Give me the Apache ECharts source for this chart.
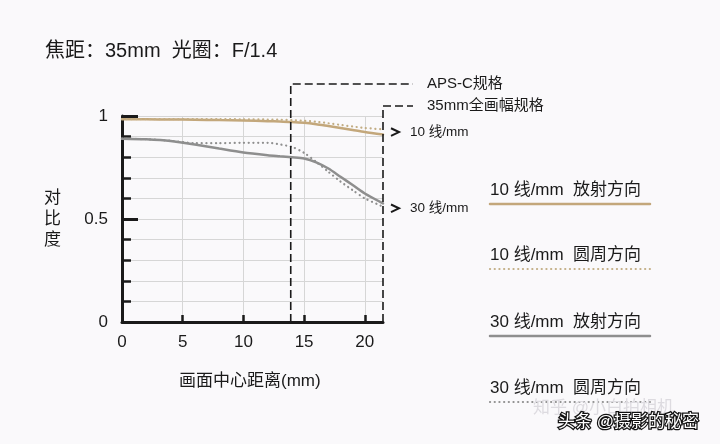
<!DOCTYPE html>
<html><head><meta charset="utf-8">
<script src="https://cdn.jsdelivr.net/npm/echarts@6/dist/echarts.min.js"></script>
<style>html,body{margin:0;padding:0;background:#faf9fb}#c{width:720px;height:444px}</style>
</head><body><div id="c"></div>
<script>
const FONT = '"Liberation Sans","Noto Sans CJK SC",sans-serif';
const titleText = '焦距：35mm  光圈：F/1.4';
const yName = '对比度';
const xName = '画面中心距离(mm)';
const distance = [0, 2, 4, 6, 8, 10, 12, 13, 14, 15, 16, 17, 18, 19, 20, 21.5];
const radial10 = [0.984, 0.984, 0.983, 0.982, 0.980, 0.978, 0.975, 0.973, 0.971, 0.967, 0.960, 0.951, 0.942, 0.932, 0.922, 0.910];
const tangential10 = [0.985, 0.985, 0.985, 0.985, 0.985, 0.984, 0.983, 0.982, 0.980, 0.977, 0.972, 0.965, 0.957, 0.949, 0.942, 0.935];
const radial30 = [0.890, 0.887, 0.879, 0.862, 0.842, 0.823, 0.810, 0.805, 0.800, 0.794, 0.775, 0.745, 0.705, 0.665, 0.624, 0.576];
const tangential30 = [0.890, 0.887, 0.880, 0.868, 0.868, 0.870, 0.870, 0.862, 0.850, 0.821, 0.777, 0.729, 0.682, 0.640, 0.600, 0.560];
const xTicks = [0, 5, 10, 15, 20];
const yTickLabels = ['0', '0.5', '1'];
const formatLimits = [13.9, 21.5];
const formatNames = ['APS-C规格', '35mm全画幅规格'];
const arrowValues = [0.922, 0.552];
const arrowNames = ['10 线/mm', '30 线/mm'];
const legendNames = ['10 线/mm  放射方向', '10 线/mm  圆周方向', '30 线/mm  放射方向', '30 线/mm  圆周方向'];
const watermarks = ['知乎 @小白拍相机', '头条 @摄影的秘密'];

const colors = ['#c3a77b', '#c2ad84', '#8e8e8e', '#8f8f8f'];
const dotted = [0.1, 4.6];
const styles = [
  {width: 2.5, type: 'solid'},
  {width: 2.2, type: dotted},
  {width: 2.5, type: 'solid'},
  {width: 2.2, type: dotted}
];
const allData = [radial10, tangential10, radial30, tangential30];

const chart = echarts.init(document.getElementById('c'), null, {renderer: 'canvas'});
const pair = arr => distance.map((d, i) => [d, arr[i]]);

chart.setOption({
  backgroundColor: '#faf9fb',
  animation: false,
  grid: {left: 122, top: 116, right: 337, bottom: 122, containLabel: false},
  xAxis: {
    type: 'value', min: 0, max: 21.5, interval: 5,
    axisLine: {show: true, onZero: false, lineStyle: {color: '#1a1a1a', width: 3}},
    axisTick: {show: true, inside: true, length: 7, lineStyle: {color: '#1a1a1a', width: 2.5}, customValues: [5, 10, 15, 20]},
    axisLabel: {show: true, margin: 12, fontSize: 17, color: '#1a1a1a', fontFamily: FONT, customValues: xTicks},
    splitLine: {show: true, lineStyle: {color: '#d6d6d6', width: 1}}
  },
  yAxis: [{
    type: 'value', min: 0, max: 1, interval: 0.1,
    axisLine: {show: true, onZero: false, lineStyle: {color: '#1a1a1a', width: 3}},
    axisTick: {show: true, inside: true, length: 9, lineStyle: {color: '#1a1a1a', width: 2.5}},
    axisLabel: {show: true, margin: 14, fontSize: 17, color: '#1a1a1a', fontFamily: FONT,
      formatter: v => { const s = yTickLabels.find(t => Math.abs(parseFloat(t) - v) < 1e-6); return s || ''; }},
    splitLine: {show: true, lineStyle: {color: '#d6d6d6', width: 1}}
  }, {
    type: 'value', min: 0, max: 1, interval: 0.5, position: 'left',
    axisLine: {show: false},
    axisTick: {show: true, inside: true, length: 16, lineStyle: {color: '#1a1a1a', width: 3}},
    axisLabel: {show: false},
    splitLine: {show: false}
  }],
  series: allData.map((arr, i) => ({
    type: 'line', data: pair(arr), showSymbol: false, smooth: 0.25,
    lineStyle: {color: colors[i], width: styles[i].width, type: styles[i].type, cap: 'round'},
    z: i % 2 === 1 ? 3 : 2
  }))
});

const X = v => chart.convertToPixel({xAxisIndex: 0}, v);
const Y = v => chart.convertToPixel({yAxisIndex: 0}, v);
const y0 = Y(0);
const topY = [84, 106];
const hEnd = 413;
const g = [];
const dashStyle = {stroke: '#1a1a1a', lineWidth: 1.6, lineDash: [8, 4], fill: null};

g.push({type: 'text', x: 45, y: 51, style: {text: titleText, font: '20px ' + FONT, fill: '#1a1a1a', verticalAlign: 'middle'}});
g.push({type: 'text', left: 44, top: 188, style: {text: yName.split('').join('\n'), font: '17px ' + FONT, lineHeight: 21, fill: '#1a1a1a'}});
g.push({type: 'text', left: 179, top: 373, style: {text: xName, font: '17px ' + FONT, fill: '#1a1a1a'}});

formatLimits.forEach((v, i) => {
  const px = X(v);
  g.push({type: 'polyline', shape: {points: [[px, y0], [px, topY[i]], [hEnd, topY[i]]]}, style: dashStyle, z: 50});
  g.push({type: 'text', x: 427, y: topY[i], style: {text: formatNames[i], font: '15px ' + FONT, fill: '#1a1a1a', verticalAlign: 'middle'}, z: 50});
});

arrowValues.forEach((v, i) => {
  const py = Y(v);
  const ax = X(21.5) + 8;
  g.push({type: 'polyline', shape: {points: [[ax, py - 3.8], [ax + 8, py], [ax, py + 3.8]]}, style: {stroke: '#1a1a1a', lineWidth: 2, fill: null}, z: 50});
  g.push({type: 'text', x: 410, y: py, style: {text: arrowNames[i], font: '13.5px ' + FONT, fill: '#1a1a1a', verticalAlign: 'middle'}, z: 50});
});

const legY = [190, 255, 322, 388];
legendNames.forEach((n, i) => {
  g.push({type: 'text', x: 490, y: legY[i], style: {text: n, font: '17px ' + FONT, fill: '#1a1a1a', verticalAlign: 'middle'}});
  g.push({type: 'line', shape: {x1: 490, y1: legY[i] + 14, x2: 650, y2: legY[i] + 14},
    style: {stroke: colors[i], lineWidth: styles[i].width, lineDash: styles[i].type === 'solid' ? null : styles[i].type, lineCap: 'round'}});
});

g.push({type: 'text', x: 533, y: 408, style: {text: watermarks[0], font: '17px ' + FONT, fill: '#dddbe0', verticalAlign: 'middle'}, z: 60});
g.push({type: 'text', x: 558, y: 422, style: {text: watermarks[1], font: '17px ' + FONT, fill: '#ffffff', stroke: '#111', lineWidth: 2.5, verticalAlign: 'middle'}, z: 61});

chart.setOption({graphic: g});
</script></body></html>
